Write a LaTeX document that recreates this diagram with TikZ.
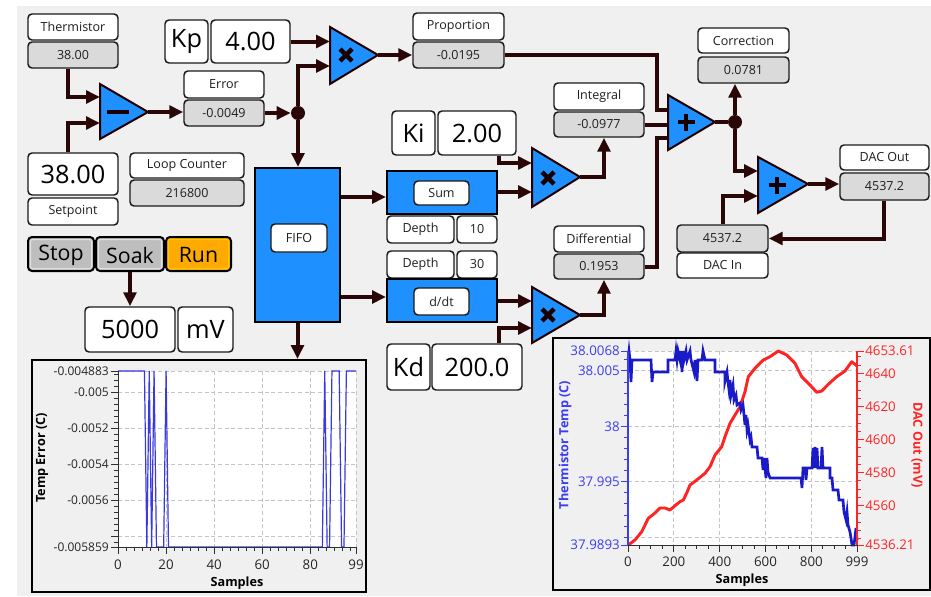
\documentclass[tikz,border=0pt]{standalone}
\usepackage{fontspec}
\setmainfont{Open Sans}
\usetikzlibrary{arrows.meta,calc}
\definecolor{bgc}{HTML}{F0F0F0}
\definecolor{valc}{HTML}{DADADA}
\definecolor{bluef}{HTML}{1E90FF}
\definecolor{wirec}{HTML}{2A0606}
\definecolor{bordc}{HTML}{1A1A1A}
\definecolor{btng}{HTML}{BEBEBE}
\definecolor{btno}{HTML}{FFAA00}
\definecolor{gridc}{HTML}{C4C4C4}
\definecolor{lblue}{HTML}{3C3CF0}
\definecolor{dblue}{HTML}{1A1AC8}
\definecolor{lred}{HTML}{FF2424}
\definecolor{tickc}{HTML}{303030}
\definecolor{dataone}{HTML}{3A3AE0}
\newcommand\Bx[7]{\node[#1, minimum width={(#4-#2)*0.75pt}, minimum height={(#5-#3)*0.75pt}] (#6) at ({(#2+#4)/2},{(#3+#5)/2}) {#7};}
\begin{document}
\begin{tikzpicture}[x=0.75pt,y=-0.75pt,
  box/.style={draw=bordc, line width=1.1pt, rounded corners=3pt, inner sep=0pt, text=black!88, font=\fontsize{9.4}{11}\selectfont},
  lbl/.style={box, fill=white},
  val/.style={box, fill=valc},
  big/.style={box, fill=white, text=black, font=\fontsize{19}{22}\selectfont},
  blk/.style={draw=black, fill=bluef, line width=1.5pt, inner sep=0pt},
  btn/.style={draw=black, line width=1.5pt, rounded corners=3pt, inner sep=0pt, font=\fontsize{16}{18}\selectfont},
  btnin/.style={line width=0.75pt, rounded corners=1.5pt},
  tri/.style={draw=black!85!red, fill=bluef, line width=1.5pt, line join=miter},
  wire/.style={draw=wirec, line width=3pt},
  arr/.style={wire, -{Triangle[length=10.5pt,width=9.5pt]}},
  sym/.style={draw=black!90!red, line width=3.2pt},
  jdot/.style={circle, fill=wirec, inner sep=0pt, minimum size=10.5pt},
  chframe/.style={draw=black, line width=1.5pt, fill=bgc, inner sep=0pt},
  gridl/.style={draw=gridc, dash pattern=on 3pt off 2pt, line width=0.75pt},
  tk/.style={draw=tickc, line width=0.75pt},
  tone/.style={font=\fontsize{9}{10}\selectfont, text=black!85, inner sep=0pt},
  ttwo/.style={font=\fontsize{10}{11}\selectfont, inner sep=0pt},
  ttl/.style={font=\bfseries\fontsize{9.5}{11}\selectfont, inner sep=0pt}
]
\useasboundingbox (0,0) rectangle (931,596);
\fill[white] (0,0) rectangle (931,596);
\fill[bgc] (17,6) rectangle (931,596);

% ---------- boxes ----------
\Bx{lbl}{28}{14}{118}{40}{thl}{Thermistor}
\Bx{val}{28}{42}{118}{68}{thv}{38.00}
\Bx{big}{28}{153}{118}{195}{spv}{38.00}
\Bx{lbl}{28}{198}{118}{225}{spl}{Setpoint}
\Bx{lbl}{184}{71}{264}{98}{erl}{Error}
\Bx{val}{184}{100}{264}{126}{erv}{-0.0049}
\Bx{lbl}{130}{153}{244}{178}{lcl}{Loop Counter}
\Bx{val}{130}{180}{244}{206}{lcv}{216800}
\Bx{big}{165}{20}{208}{63}{kpl}{Kp}
\Bx{big}{211}{20}{290}{63}{kpv}{4.00}
\Bx{lbl}{413}{13}{504}{40}{prl}{Proportion}
\Bx{val}{413}{42}{504}{68}{prv}{-0.0195}
\Bx{big}{392}{111}{435}{155}{kil}{Ki}
\Bx{big}{438}{111}{516}{155}{kiv}{2.00}
\Bx{lbl}{554}{83}{644}{110}{inl}{Integral}
\Bx{val}{554}{112}{644}{137}{inv}{-0.0977}
\Bx{lbl}{554}{226}{644}{252}{dfl}{Differential}
\Bx{val}{554}{254}{644}{279}{dfv}{0.1953}
\Bx{big}{387}{344}{430}{390}{kdl}{Kd}
\Bx{big}{432}{344}{522}{390}{kdv}{200.0}
\Bx{lbl}{698}{28}{789}{53}{col}{Correction}
\Bx{val}{698}{57}{789}{83}{cov}{0.0781}
\Bx{lbl}{840}{145}{929}{170}{dol}{DAC Out}
\Bx{val}{840}{173}{929}{200}{dov}{4537.2}
\Bx{val}{677}{225}{768}{252}{div}{4537.2}
\Bx{lbl}{677}{253}{768}{278}{dil}{DAC In}
\Bx{blk}{255}{168}{340}{322}{fifo}{}
\Bx{lbl}{271}{224}{327}{252}{fifol}{FIFO}
\Bx{blk}{387}{171}{497}{214}{sum}{}
\Bx{lbl}{414}{181}{469}{205}{suml}{Sum}
\Bx{lbl}{387}{216}{454}{243}{dal}{Depth}
\Bx{lbl}{457}{216}{497}{243}{dav}{10}
\Bx{lbl}{387}{251}{454}{278}{dbl}{Depth}
\Bx{lbl}{457}{251}{497}{278}{dbv}{30}
\Bx{blk}{387}{279}{497}{322}{ddt}{}
\Bx{lbl}{414}{288}{469}{315}{ddtl}{d/dt}
\Bx{btn,fill=btng}{28}{237}{94}{271}{stop}{}
\Bx{btn,fill=btng}{96}{237}{164}{271}{soak}{}
\Bx{btn,fill=btno}{166}{237}{231}{271}{run}{}
\draw[btnin, draw=white!88!black] (30.5,239.5) rectangle (91.5,268.5);
\draw[btnin, draw=white!88!black] (98.5,239.5) rectangle (161.5,268.5);
\draw[btnin, draw=yellow!60!orange] (168.5,239.5) rectangle (228.5,268.5);
\node[font=\fontsize{16}{18}\selectfont, inner sep=0pt] (stopt) at ([yshift=-0.8pt]stop.center) {Stop};
\node[font=\fontsize{16}{18}\selectfont, inner sep=0pt] (soakt) at ([yshift=-0.8pt]soak.center) {Soak};
\node[font=\fontsize{16}{18}\selectfont, inner sep=0pt] (runt) at ([yshift=-0.8pt]run.center) {Run};
\Bx{big}{85}{307}{175}{352}{mvv}{5000}
\Bx{big}{178}{307}{233}{352}{mvl}{mV}

% ---------- operator triangles ----------
\draw[tri] (100,84) -- (100,139) -- (148,112) -- cycle;
\draw[sym] (107,112) -- (129,112);
\draw[tri] (330,27) -- (330,84) -- (378,55) -- cycle;
\draw[sym] (340,49) -- (352,61) (340,61) -- (352,49);
\draw[tri] (532,148) -- (532,207) -- (580,177) -- cycle;
\draw[sym] (542,172) -- (554,184) (542,184) -- (554,172);
\draw[tri] (532,287) -- (532,343) -- (580,315) -- cycle;
\draw[sym] (542,309) -- (554,321) (542,321) -- (554,309);
\draw[tri] (668,95) -- (668,150) -- (715,122) -- cycle;
\draw[sym] (677.5,122) -- (694.5,122) (686,113.5) -- (686,130.5);
\draw[tri] (758,157) -- (758,213) -- (808,184) -- cycle;
\draw[sym] (768.5,185) -- (785.5,185) (777,176.5) -- (777,193.5);

\coordinate (s1a) at (100,97);  \coordinate (s1b) at (100,123); \coordinate (s1o) at (148,112);
\coordinate (m1a) at (330,41);  \coordinate (m1b) at (330,66);  \coordinate (m1o) at (378,55);
\coordinate (m2a) at (532,163); \coordinate (m2b) at (532,192); \coordinate (m2o) at (580,177);
\coordinate (m3a) at (532,301); \coordinate (m3b) at (532,328); \coordinate (m3o) at (580,315);
\coordinate (a1a) at (668,110); \coordinate (a1b) at (668,124); \coordinate (a1c) at (668,138); \coordinate (a1o) at (715,122);
\coordinate (a2a) at (758,171); \coordinate (a2b) at (758,196); \coordinate (a2o) at (808,184);
\coordinate (xl) at (68,0); \coordinate (xk) at (499,0); \coordinate (xo) at (604,0);
\coordinate (xa) at (657,0); \coordinate (xd) at (884,0);
\coordinate (ys) at (0,197); \coordinate (yd) at (0,297);
\node[jdot] (j1) at (298,113) {};
\node[jdot] (j2) at (735,122) {};

% ---------- connectors ----------
\draw[arr] (thv.south -| xl) |- (s1a);
\draw[arr] (spv.north -| xl) |- (s1b);
\draw[arr] (s1o) -- (s1o -| erv.west);
\draw[arr] (erv.east) -- (j1);
\draw[arr] (j1) |- (m1b);
\draw[arr] (kpv.east) -- (kpv.east -| m1a);
\draw[arr] (j1) -- (j1 |- fifo.north);
\draw[arr] (m1o) -- (m1o -| prv.west);
\draw[wire] (prv.east) -| (xa |- a1a) -- (a1a);
\draw[wire] (inv.east) -- (inv.east -| a1b);
\draw[wire] (dfv.east) -| (xa |- a1c) -- (a1c);
\draw[wire] (a1o) -- (j2);
\draw[arr] (j2) -- (j2 |- cov.south);
\draw[arr] (j2) |- (a2a);
\draw[arr] (a2o) -- (a2o -| dov.west);
\draw[arr] (dov.south -| xd) |- (div.east);
\draw[arr] (div.north) |- (a2b);
\draw[arr] (kiv.south -| xk) |- (m2a);
\draw[arr] (sum.east |- m2b) -- (m2b);
\draw[arr] (m2o) -| (inv.south -| xo);
\draw[arr] (fifo.east |- ys) -- (sum.west |- ys);
\draw[arr] (fifo.east |- yd) -- (ddt.west |- yd);
\draw[arr] (ddt.east |- m3a) -- (m3a);
\draw[arr] (kdv.north -| xk) |- (m3b);
\draw[arr] (m3o) -| (dfv.south -| xo);
\draw[arr] (soak.south) -- (soak.south |- mvv.north);

% ---------- chart 1 ----------
\Bx{chframe}{32}{360}{366}{592}{chone}{}
\draw[arr] (fifo.south) -- (fifo.south |- chone.north);
\fill[white] (118,371) rectangle (356,547);
\foreach \xx in {166.1,214.2,262.2,310.3,356} \draw[gridl] (\xx,371) -- (\xx,547);
\foreach \yy in {371,392.1,428.2,464.2,500.3,536.4} \draw[gridl] (118,\yy) -- (356,\yy);
\begin{scope}[shift={(118,547)}, x=1.803pt, y=132pt]
\draw[dataone, line width=0.9pt] (0,1) -- (11,1) -- (12,0) -- (13,1) -- (14,0) -- (15,1) -- (16,0) -- (19,0) -- (20,1) -- (21,0) -- (85,0) -- (86,1) -- (87,0) -- (88,0) -- (89,1) -- (92,1) -- (93,0) -- (94,0) -- (95,1) -- (99,1);
\end{scope}
\draw[tk] (118,371) -- (118,547) -- (356,547);
\foreach \k in {-3,...,25} \draw[tk] (118,{392.1+6.01*\k}) -- (114,{392.1+6.01*\k});
\foreach \yy in {371,392.1,428.2,464.2,500.3,536.4,547} \draw[tk] (118,\yy) -- (111,\yy);
\foreach \k in {0,...,29} \draw[tk] ({118+8.013*\k},547) -- ({118+8.013*\k},551);
\foreach \xx in {118,166.1,214.2,262.2,310.3,356} \draw[tk] (\xx,547) -- (\xx,554);
\foreach \yy/\t [count=\i] in {371/-0.004883,392.1/-0.005,428.2/-0.0052,464.2/-0.0054,500.3/-0.0056,547/-0.005859}
  \node[tone, anchor=east] (cay\i) at (109,\yy) {\t};
\foreach \xx/\t [count=\i] in {118/0,166.1/20,214.2/40,262.2/60,310.3/80,356/99}
  \node[tone, font=\fontsize{10}{11}\selectfont] (cax\i) at (\xx,565) {\t};
\node[ttl, rotate=90] (cayt) at (42,458) {Temp Error (C)};
\node[ttl] (caxt) at (237,583) {Samples};

% ---------- chart 2 ----------
\Bx{chframe}{553}{338}{930}{590}{chtwo}{}
\fill[white] (628,351) rectangle (857,545);
\foreach \xx in {673.8,719.7,765.5,811.4} \draw[gridl] (\xx,351) -- (\xx,545);
\foreach \yy in {351,370.95,426.4,481.8,537.2} \draw[gridl] (628,\yy) -- (857,\yy);
\draw[lred, line width=2.2pt, line join=round] (628.3,545) -- (635,540) -- (641.7,531.7) -- (648.3,518.3) -- (655,513) -- (660,508) -- (665,508) -- (670,510) -- (675,505.7) -- (680,501.7) -- (683.3,500) -- (686.7,493) -- (690,485) -- (696.7,480) -- (705,473.3) -- (710,466.7) -- (715,455) -- (721.7,446.7) -- (725,436.7) -- (730,423.3) -- (735,415) -- (740,406.7) -- (745,391.7) -- (748.3,376.7) -- (755,368.3) -- (763.3,360) -- (770,356.7) -- (778.3,351) -- (786.7,355) -- (795,363.3) -- (801.7,376.7) -- (810,385) -- (816.7,392.3) -- (821.7,391) -- (828.3,384.3) -- (836.7,376.7) -- (845,371) -- (851.7,361.7) -- (856.7,365.7);
\draw[dblue, line width=2pt] (628,360) -- (629,351) -- (630,360) -- (631,382) -- (632,360) -- (651,360) -- (652,382) -- (653,372) -- (668,372) -- (668,360) -- (675,360) -- (676,351) -- (677,360) -- (678,351) -- (680,360) -- (681,351) -- (682,372) -- (683,351) -- (684,360) -- (686,351) -- (687,360) -- (690,351) -- (691,360) -- (694,372) -- (695,360) -- (697,381) -- (698,360) -- (702,360) -- (703,351) -- (705,360) -- (715,360) -- (715,372) -- (725,372) -- (725,381) -- (727,372) -- (728,382) -- (729,390) -- (730,380) -- (731,395) -- (733,385) -- (734,400) -- (736,395) -- (737,405) -- (740,403) -- (741,410) -- (743,405) -- (744,415) -- (745,425) -- (746,415) -- (747,430) -- (748,425) -- (750,440) -- (751,437) -- (752,447) -- (757,447) -- (758,458) -- (762,458) -- (763,470) -- (764,458) -- (766,478) -- (767,458) -- (768,472) -- (770,478) -- (801,478) -- (802,488) -- (803,468) -- (805,468) -- (806,480) -- (807,468) -- (812,468) -- (813,448) -- (814,468) -- (815,447) -- (816,468) -- (817,448) -- (818,468) -- (821,468) -- (822,447) -- (823,468) -- (830,468) -- (830,478) -- (832,478) -- (833,490) -- (838,490) -- (839,500) -- (843,500) -- (844,512) -- (846,520) -- (847,512) -- (848,525) -- (850,532) -- (851,538) -- (852,545) -- (854,545) -- (856,528) -- (857,540);
\draw[tk] (628,545) -- (857,545);
\draw[lblue, line width=1pt] (628,351) -- (628,545);
\draw[lred, line width=1pt] (857,351) -- (857,545);
\foreach \k in {0,...,16} \draw[lblue, line width=0.75pt] (628,{537.24-11.086*\k}) -- (624,{537.24-11.086*\k});
\foreach \yy in {351,370.95,426.4,481.8,545} \draw[lblue, line width=0.75pt] (628,\yy) -- (621,\yy);
\foreach \k in {0,...,22} \draw[lred, line width=0.75pt] (857,{538.74-8.262*\k}) -- (861,{538.74-8.262*\k});
\foreach \yy in {351,373.5,406.5,439.6,472.6,505.7,545} \draw[lred, line width=0.75pt] (857,\yy) -- (864,\yy);
\foreach \k in {0,...,19} \draw[tk] ({628+11.46*\k},545) -- ({628+11.46*\k},549);
\foreach \xx in {628,673.8,719.7,765.5,811.4,857} \draw[tk] (\xx,545) -- (\xx,552);
\foreach \yy/\t [count=\i] in {351/38.0068,370.95/38.005,426.4/38,481.8/37.995,545/37.9893}
  \node[ttwo, text=lblue, anchor=east] (cby\i) at (620,\yy) {\t};
\foreach \yy/\t [count=\i] in {351/4653.61,373.5/4640,406.5/4620,439.6/4600,472.6/4580,505.7/4560,545/4536.21}
  \node[ttwo, text=lred, anchor=west] (cbr\i) at (865,\yy) {\t};
\foreach \xx/\t [count=\i] in {628/0,673.8/200,719.7/400,765.5/600,811.4/800,857/999}
  \node[ttwo, text=black!85] (cbx\i) at (\xx,561.5) {\t};
\node[ttl, rotate=90, text=lblue] (cbyt) at (565,445) {Thermistor Temp (C)};
\node[ttl, rotate=-90, text=lred] (cbrt) at (917,445) {DAC Out (mV)};
\node[ttl] (cbxt) at (742,580) {Samples};
\end{tikzpicture}
\end{document}
